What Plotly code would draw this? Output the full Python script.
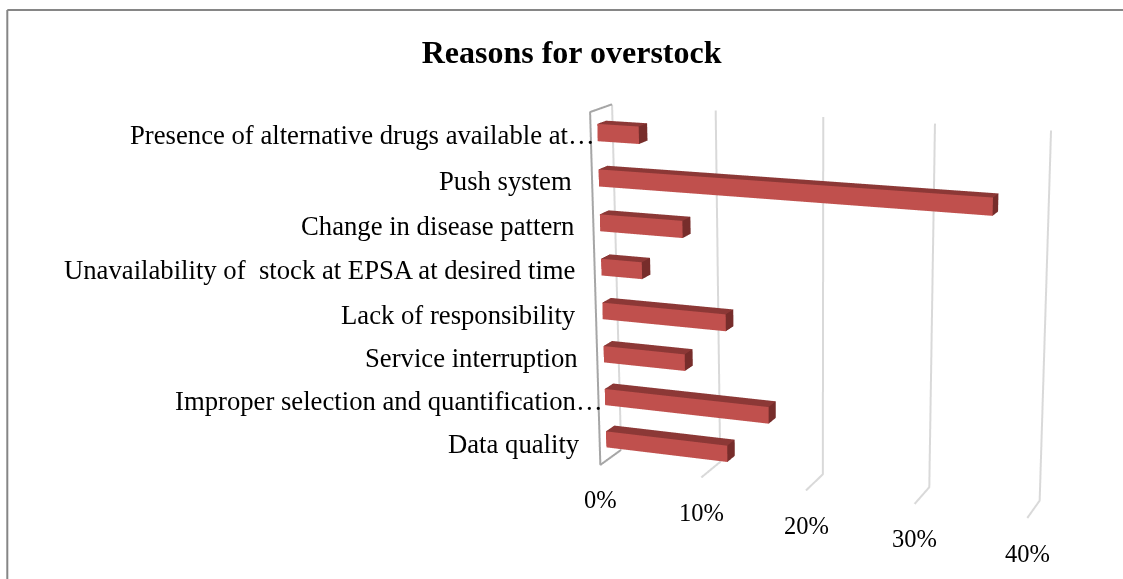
import plotly.graph_objects as go

# bottom to top, same order as the chart draws them
categories = [
    "Data quality",
    "Improper selection and quantification…",
    "Service interruption",
    "Lack of responsibility",
    "Unavailability of  stock at EPSA at desired time",
    "Change in disease pattern",
    "Push system",
    "Presence of alternative drugs available at…",
]
percent_values = [12, 16, 8, 12, 4, 8, 36, 4]
tick_values = [0, 10, 20, 30, 40]
tick_labels = ["0%", "10%", "20%", "30%", "40%"]

FONT = "Liberation Serif"
FRONT = "#C0504D"
TOP = "#8C3836"
SIDE = "#772D2B"
GRID = "#D9D9D9"
WALL = "#A6A6A6"

# plotly's camera has a fixed field of view, so the flat perspective of the
# original needs a scene much taller than the window, shifted up with css
FIG_HEIGHT = 1664
TOP_OFFSET = 526


def get_paper_y(page_y: float) -> float:
    return 1 - (page_y + TOP_OFFSET) / FIG_HEIGHT


def get_bars_mesh() -> go.Mesh3d:
    xs, ys, zs, ii, jj, kk, colors = [], [], [], [], [], [], []
    for pos, value in enumerate(percent_values):
        base = len(xs)
        for z in (pos + 0.31, pos + 0.69):
            for x, y in ((0, 0.3), (value, 0.3), (value, 0.7), (0, 0.7)):
                xs.append(x)
                ys.append(y)
                zs.append(z)
        # front, top and right side, two triangles each
        faces = [
            (0, 1, 5, FRONT),
            (0, 5, 4, FRONT),
            (4, 5, 6, TOP),
            (4, 6, 7, TOP),
            (1, 2, 6, SIDE),
            (1, 6, 5, SIDE),
        ]
        for a, b, c, color in faces:
            ii.append(base + a)
            jj.append(base + b)
            kk.append(base + c)
            colors.append(color)
    return go.Mesh3d(
        x=xs,
        y=ys,
        z=zs,
        i=ii,
        j=jj,
        k=kk,
        facecolor=colors,
        flatshading=True,
        lighting=dict(ambient=1, diffuse=0, specular=0, roughness=1, fresnel=0),
        hoverinfo="skip",
    )


def get_line(x, y, z, color) -> go.Scatter3d:
    return go.Scatter3d(
        x=x,
        y=y,
        z=z,
        mode="lines",
        line=dict(color=color, width=4),
        hoverinfo="skip",
        showlegend=False,
    )


top_z = len(categories)
traces = []
for tick in tick_values[1:]:
    traces.append(get_line([tick, tick, tick], [0, 1, 1], [0, 0, top_z], GRID))
traces.append(get_line([0, 0], [1, 1], [0, top_z], GRID))
traces.append(get_line([0, 0, 0, 0], [1, 0, 0, 1], [top_z, top_z, 0, 0], WALL))
traces.append(get_bars_mesh())

annotations = []
for pos, label in enumerate(categories):
    annotations.append(
        dict(
            x=0,
            y=0,
            z=pos + 0.5,
            text=label,
            showarrow=False,
            xanchor="right",
            xshift=6 if label.endswith("…") else -18,
            font=dict(family=FONT, size=26.7, color="black"),
        )
    )
for tick, label in zip(tick_values, tick_labels):
    annotations.append(
        dict(
            x=tick,
            y=0,
            z=0,
            text=label,
            showarrow=False,
            yshift=-35,
            font=dict(family=FONT, size=24.5, color="black"),
        )
    )

fig = go.Figure(data=traces)
hidden = dict(visible=False)
fig.update_layout(
    width=1123,
    height=FIG_HEIGHT,
    margin=dict(l=0, r=0, t=0, b=0),
    paper_bgcolor="white",
    showlegend=False,
    title=dict(
        text="<b>Reasons for overstock</b>",
        x=0.509,
        xanchor="center",
        y=get_paper_y(52),
        yanchor="middle",
        font=dict(family=FONT, size=32, color="black"),
    ),
    scene=dict(
        domain=dict(x=[0.451, 1], y=[0, 1]),
        xaxis=dict(range=[0, 40], **hidden),
        yaxis=dict(range=[0, 1], **hidden),
        zaxis=dict(range=[0, top_z], **hidden),
        aspectmode="manual",
        aspectratio=dict(x=0.94, y=0.105, z=0.765),
        camera=dict(
            eye=dict(x=1.34, y=-3.74, z=1.06),
            center=dict(x=0, y=0, z=0),
            up=dict(x=0, y=0, z=1),
        ),
        annotations=annotations,
    ),
    shapes=[
        dict(type="line", xref="paper", yref="paper", x0=0.0065, x1=1,
             y0=get_paper_y(10), y1=get_paper_y(10),
             line=dict(color="#868686", width=2)),
        dict(type="line", xref="paper", yref="paper", x0=0.0065, x1=0.0065,
             y0=get_paper_y(579), y1=get_paper_y(10),
             line=dict(color="#868686", width=2)),
    ],
)

page_fix = (
    "document.body.style.margin='0';"
    "document.documentElement.style.overflow='hidden';"
    "document.body.style.overflow='hidden';"
    f"document.getElementById('{{plot_id}}').style.marginTop='-{TOP_OFFSET}px';"
)
fig.write_html("out.html", post_script=page_fix)
